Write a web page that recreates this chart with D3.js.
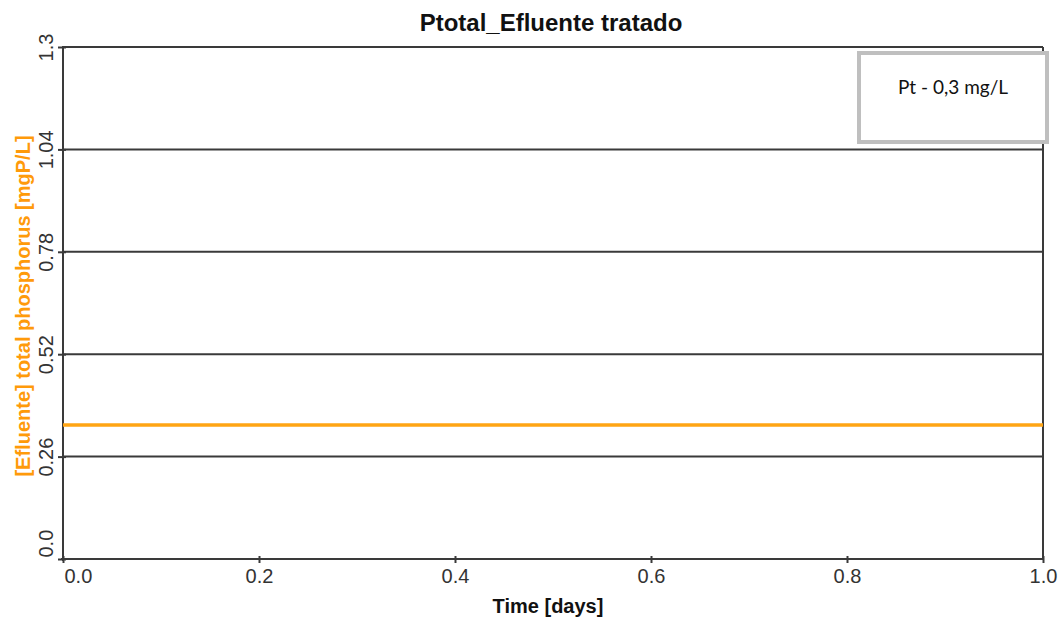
<!DOCTYPE html>
<html>
<head>
<meta charset="utf-8">
<script src="https://cdn.jsdelivr.net/npm/d3@7"></script>
<style>
  html, body { margin: 0; padding: 0; background: #fff; }
  svg { display: block; }
</style>
</head>
<body>
<svg id="chart" width="1064" height="621"></svg>
<script>
// Simulated effluent total phosphorus over one day
const timeDays = [0.0, 1.0];
const phosphorus = [0.34, 0.34];

const xTicks = [0.0, 0.2, 0.4, 0.6, 0.8, 1.0];
const xTickLabels = ["0.0", "0.2", "0.4", "0.6", "0.8", "1.0"];
const yTicks = [0.0, 0.26, 0.52, 0.78, 1.04, 1.3];
const yTickLabels = ["0.0", "0.26", "0.52", "0.78", "1.04", "1.3"];

const chartTitle = "Ptotal_Efluente tratado";
const xTitle = "Time [days]";
const yTitle = "[Efluente] total phosphorus [mgP/L]";
const legendText = "Pt - 0,3 mg/L";

const svg = d3.select("#chart");
const W = 1064, H = 621;
const margin = { left: 63, right: 21, top: 47, bottom: 62 };
const plotW = W - margin.left - margin.right;
const plotH = H - margin.top - margin.bottom;

const x = d3.scaleLinear().domain([0, 1]).range([margin.left, margin.left + plotW]);
const y = d3.scaleLinear().domain([0, 1.3]).range([margin.top + plotH, margin.top]);

const axisColor = "#3a3a3a";
const tickColor = "#333";
const orange = "#ffa514";
const sans = "'Liberation Sans', Arial, sans-serif";

// horizontal grid lines (including the top border)
svg.append("g")
  .selectAll("line")
  .data(yTicks.filter(d => d > 0))
  .join("line")
  .attr("x1", x(0)).attr("x2", x(1))
  .attr("y1", d => y(d)).attr("y2", d => y(d))
  .attr("stroke", axisColor)
  .attr("stroke-width", 2);

// right border
svg.append("line")
  .attr("x1", x(1)).attr("x2", x(1))
  .attr("y1", y(0)).attr("y2", y(1.3))
  .attr("stroke", axisColor)
  .attr("stroke-width", 2);

// x axis
const xAxis = d3.axisBottom(x)
  .tickValues(xTicks)
  .tickFormat((d, i) => xTickLabels[i])
  .tickSizeInner(4)
  .tickSizeOuter(0)
  .tickPadding(6);

const gx = svg.append("g")
  .attr("transform", `translate(0,${y(0)})`)
  .call(xAxis);
gx.select(".domain").attr("stroke", axisColor).attr("stroke-width", 2)
  .attr("d", `M${x(0) - 2},0H${x(1) + 1}`);
gx.selectAll(".tick line")
  .attr("stroke", axisColor).attr("stroke-width", 2)
  .attr("y1", -3).attr("y2", 4);
gx.selectAll(".tick text")
  .attr("fill", tickColor)
  .style("font-family", sans)
  .style("font-size", "20px");
// first label sits to the right of the origin so it clears the y-axis label
gx.selectAll(".tick text")
  .filter(d => d === xTicks[0])
  .attr("text-anchor", "start")
  .attr("x", 1);

// y axis
const yAxis = d3.axisLeft(y)
  .tickValues(yTicks)
  .tickFormat((d, i) => yTickLabels[i])
  .tickSizeInner(4)
  .tickSizeOuter(0)
  .tickPadding(10);

const gy = svg.append("g")
  .attr("transform", `translate(${x(0)},0)`)
  .call(yAxis);
gy.select(".domain").attr("stroke", axisColor).attr("stroke-width", 2)
  .attr("d", `M0,${y(0) + 2}V${y(1.3) - 1}`);
gy.selectAll(".tick line")
  .attr("stroke", axisColor).attr("stroke-width", 2)
  .attr("x1", -5).attr("x2", 3);
gy.selectAll(".tick text")
  .attr("fill", tickColor)
  .attr("x", null).attr("dy", null)
  .attr("text-anchor", "middle")
  .attr("transform", "translate(-10,0) rotate(-90)")
  .style("font-family", sans)
  .style("font-size", "20px");
// lowest label sits above the origin
gy.selectAll(".tick text")
  .filter(d => d === yTicks[0])
  .attr("text-anchor", "start")
  .attr("transform", "translate(-10,-2) rotate(-90)");

// phosphorus series
const line = d3.line()
  .x((d, i) => x(timeDays[i]))
  .y(d => y(d));

svg.append("path")
  .datum(phosphorus)
  .attr("d", line)
  .attr("fill", "none")
  .attr("stroke", orange)
  .attr("stroke-width", 3.5);

// title
svg.append("text")
  .attr("x", 551).attr("y", 31)
  .attr("text-anchor", "middle")
  .style("font-family", sans)
  .style("font-weight", "bold")
  .style("font-size", "24px")
  .attr("fill", "#111")
  .text(chartTitle);

// x axis title
svg.append("text")
  .attr("x", 548).attr("y", 613)
  .attr("text-anchor", "middle")
  .style("font-family", sans)
  .style("font-weight", "bold")
  .style("font-size", "20px")
  .attr("fill", "#111")
  .text(xTitle);

// y axis title
svg.append("text")
  .attr("transform", `translate(30,${(y(0) + y(1.3)) / 2 + 3}) rotate(-90)`)
  .attr("text-anchor", "middle")
  .style("font-family", sans)
  .style("font-weight", "bold")
  .style("font-size", "20px")
  .attr("fill", "#ff9a0a")
  .text(yTitle);

// legend note box
const legend = svg.append("g");
legend.append("rect")
  .attr("x", 859).attr("y", 53)
  .attr("width", 188).attr("height", 89)
  .attr("fill", "#fff")
  .attr("stroke", "#bfbfbf")
  .attr("stroke-width", 4);
legend.append("text")
  .attr("x", 953).attr("y", 94)
  .attr("text-anchor", "middle")
  .style("font-family", "Lato, 'Open Sans', sans-serif")
  .style("font-size", "19px")
  .attr("fill", "#111")
  .text(legendText);
</script>
</body>
</html>
